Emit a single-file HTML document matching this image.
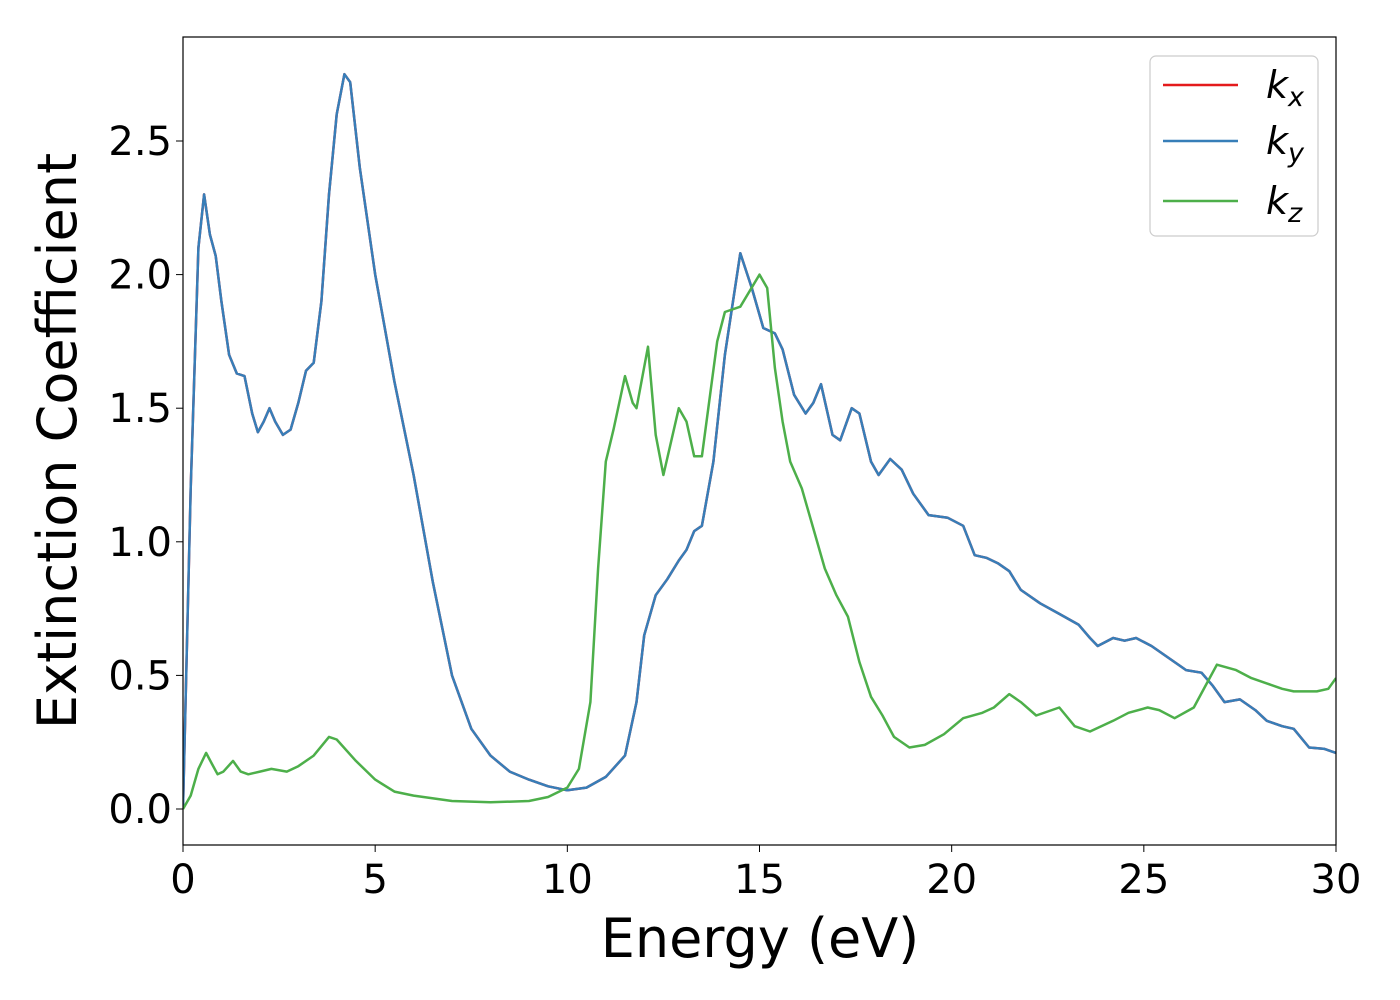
<!DOCTYPE html>
<html><head><meta charset="utf-8"><style>
body{margin:0;background:#fff;}
svg{display:block;font-family:"DejaVu Sans","Liberation Sans",sans-serif;}
</style></head><body>
<svg id="chart" width="1400" height="1000" viewBox="0 0 1400 1000">
<rect x="0" y="0" width="1400" height="1000" fill="#fff"/>
<defs><clipPath id="clip"><rect x="183" y="37" width="1153" height="808"/></clipPath></defs>
<g id="ticks"></g>
<g id="series" clip-path="url(#clip)"></g>
<rect x="183" y="37" width="1153" height="808" fill="none" stroke="#000" stroke-width="1.2"/>
<text x="760" y="957" font-size="54" text-anchor="middle">Energy (eV)</text>
<text transform="translate(76,441) rotate(-90)" font-size="54" text-anchor="middle">Extinction Coefficient</text>
<g>
<rect x="1150" y="56" width="168" height="180" rx="6" fill="#fff" stroke="#ccc" stroke-width="1.2"/>
<line x1="1163" y1="85" x2="1238" y2="85" stroke="#e41a1c" stroke-width="2.5"/>
<text x="1266" y="98" font-size="38" font-style="italic">k<tspan font-size="27" dy="8">x</tspan></text>
<line x1="1163" y1="141" x2="1238" y2="141" stroke="#377eb8" stroke-width="2.5"/>
<text x="1266" y="154" font-size="38" font-style="italic">k<tspan font-size="27" dy="8">y</tspan></text>
<line x1="1163" y1="201" x2="1238" y2="201" stroke="#4daf4a" stroke-width="2.5"/>
<text x="1266" y="214" font-size="38" font-style="italic">k<tspan font-size="27" dy="8">z</tspan></text>
</g>
</svg>
<script>
const xTicks=[0,5,10,15,20,25,30];
const yTicks=[0.0,0.5,1.0,1.5,2.0,2.5];
const yTickLabels=["0.0","0.5","1.0","1.5","2.0","2.5"];
const energyXY=[0,0.2,0.4,0.55,0.7,0.85,1.0,1.2,1.4,1.6,1.8,1.95,2.1,2.25,2.4,2.6,2.8,3.0,3.2,3.4,3.6,3.8,4.0,4.2,4.35,4.6,5.0,5.5,6.0,6.5,7.0,7.5,8.0,8.5,9.0,9.5,10,10.5,11,11.5,11.8,12.0,12.3,12.6,12.9,13.1,13.3,13.5,13.8,14.1,14.5,14.8,15.1,15.4,15.6,15.9,16.2,16.4,16.6,16.9,17.1,17.4,17.6,17.9,18.1,18.4,18.7,19.0,19.4,19.9,20.3,20.6,20.9,21.2,21.5,21.8,22.3,22.8,23.3,23.6,23.8,24.2,24.5,24.8,25.2,25.7,26.1,26.5,26.8,27.1,27.5,27.9,28.2,28.6,28.9,29.3,29.7,30];
const kxy=[0,1.2,2.1,2.30,2.15,2.07,1.9,1.7,1.63,1.62,1.48,1.41,1.45,1.50,1.45,1.40,1.42,1.52,1.64,1.67,1.9,2.3,2.6,2.75,2.72,2.4,2.0,1.6,1.25,0.85,0.5,0.3,0.2,0.14,0.11,0.085,0.07,0.08,0.12,0.2,0.4,0.65,0.8,0.86,0.93,0.97,1.04,1.06,1.3,1.7,2.08,1.95,1.8,1.78,1.72,1.55,1.48,1.52,1.59,1.4,1.38,1.50,1.48,1.3,1.25,1.31,1.27,1.18,1.1,1.09,1.06,0.95,0.94,0.92,0.89,0.82,0.77,0.73,0.69,0.64,0.61,0.64,0.63,0.64,0.61,0.56,0.52,0.51,0.46,0.40,0.41,0.37,0.33,0.31,0.30,0.23,0.225,0.21];
const energyZ=[0,0.2,0.4,0.6,0.75,0.9,1.05,1.3,1.5,1.7,2.0,2.3,2.7,3.0,3.4,3.8,4.0,4.5,5.0,5.5,6.0,7.0,8.0,9.0,9.5,10.0,10.3,10.6,10.8,11.0,11.2,11.5,11.7,11.8,12.1,12.3,12.5,12.9,13.1,13.3,13.5,13.9,14.1,14.5,15.0,15.2,15.4,15.6,15.8,16.1,16.4,16.7,17.0,17.3,17.6,17.9,18.2,18.5,18.9,19.3,19.8,20.3,20.8,21.1,21.5,21.8,22.2,22.8,23.2,23.6,24.2,24.6,25.1,25.4,25.8,26.3,26.6,26.9,27.4,27.8,28.2,28.6,28.9,29.5,29.8,30];
const kz=[0,0.05,0.15,0.21,0.17,0.13,0.14,0.18,0.14,0.13,0.14,0.15,0.14,0.16,0.20,0.27,0.26,0.18,0.11,0.065,0.05,0.03,0.025,0.03,0.045,0.08,0.15,0.4,0.9,1.3,1.42,1.62,1.52,1.5,1.73,1.4,1.25,1.50,1.45,1.32,1.32,1.75,1.86,1.88,2.00,1.95,1.65,1.45,1.3,1.2,1.05,0.9,0.8,0.72,0.55,0.42,0.35,0.27,0.23,0.24,0.28,0.34,0.36,0.38,0.43,0.40,0.35,0.38,0.31,0.29,0.33,0.36,0.38,0.37,0.34,0.38,0.46,0.54,0.52,0.49,0.47,0.45,0.44,0.44,0.45,0.49];

const NS="http://www.w3.org/2000/svg";
function xScale(v){return 183+(v-0)/30*1153;}
function yScale(v){return 809-v*267.2;}
const ticksG=document.getElementById('ticks');
xTicks.forEach(t=>{
  const l=document.createElementNS(NS,'line');
  l.setAttribute('x1',xScale(t));l.setAttribute('x2',xScale(t));
  l.setAttribute('y1',845);l.setAttribute('y2',852);l.setAttribute('stroke','#000');
  
  
  ticksG.appendChild(l);
  const tx=document.createElementNS(NS,'text');
  tx.setAttribute('x',xScale(t));tx.setAttribute('y',893);
  tx.setAttribute('font-size','40');tx.setAttribute('text-anchor','middle');
  tx.textContent=String(t);
  
  
  ticksG.appendChild(tx);
});
yTicks.forEach((t,i)=>{
  const l=document.createElementNS(NS,'line');
  l.setAttribute('x1',176);l.setAttribute('x2',183);
  l.setAttribute('y1',yScale(t));l.setAttribute('y2',yScale(t));l.setAttribute('stroke','#000');
  
  
  ticksG.appendChild(l);
  const tx=document.createElementNS(NS,'text');
  tx.setAttribute('x',172);tx.setAttribute('y',yScale(t)+14);
  tx.setAttribute('font-size','40');tx.setAttribute('text-anchor','end');
  tx.textContent=yTickLabels[i];
  
  
  ticksG.appendChild(tx);
});
const sG=document.getElementById('series');
function addLine(xs,ys,color,name){
  const p=document.createElementNS(NS,'polyline');
  p.setAttribute('points',xs.map((x,i)=>xScale(x).toFixed(1)+','+yScale(ys[i]).toFixed(1)).join(' '));
  p.setAttribute('fill','none');p.setAttribute('stroke',color);
  p.setAttribute('stroke-width','2.5');p.setAttribute('stroke-linejoin','round');
  
  
  sG.appendChild(p);
}
addLine(energyXY,kxy,'#e41a1c','series-kx');
addLine(energyXY,kxy,'#377eb8','series-ky');
addLine(energyZ,kz,'#4daf4a','series-kz');
</script>
</body></html>
